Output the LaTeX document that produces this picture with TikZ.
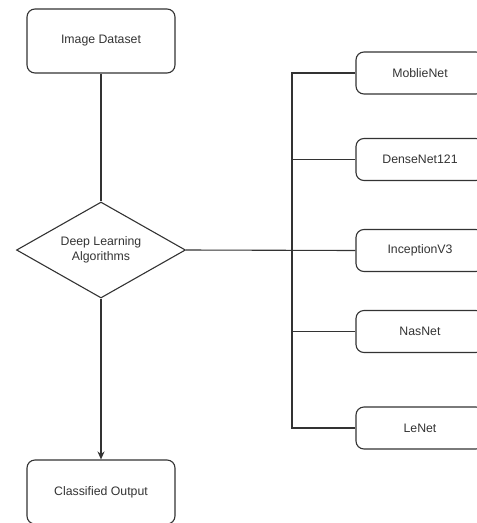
\documentclass[tikz,border=0pt]{standalone}
\usepackage{fontspec}
\setmainfont{Liberation Sans}
\usetikzlibrary{shapes.geometric,arrows.meta}
\definecolor{ln}{HTML}{333333}
\tikzset{
  box/.style={draw=ln, line width=1.1pt, rounded corners=8pt, minimum width=148pt, minimum height=64pt, inner sep=0pt, font=\fontsize{12.3}{14.5}\selectfont, text=ln},
  algbox/.style={draw=ln, line width=1.1pt, rounded corners=8pt, minimum width=128pt, minimum height=42pt, inner sep=0pt, font=\fontsize{12.3}{14.5}\selectfont, text=ln},
  dec/.style={draw=ln, line width=1.1pt, diamond, minimum width=169pt, minimum height=96pt, inner sep=0pt, aspect=1.76, font=\fontsize{12.3}{14.5}\selectfont, text=ln, align=center},
  conn/.style={draw=ln, line width=1.1pt}
}
\begin{document}
\begin{tikzpicture}[x=1pt,y=-1pt]
\useasboundingbox (0,0) rectangle (477,523);
\clip (0,0) rectangle (477,523);
\node[box] (img) at (101,41) {Image Dataset};
\node[dec] (dl) at (101,250) {Deep Learning\\Algorithms};
\node[box] (out) at (101,492) {Classified Output};
\node[algbox] (m1) at (420,73) {MoblieNet};
\node[algbox] (m2) at (420,159.5) {DenseNet121};
\node[algbox] (m3) at (420,250.5) {InceptionV3};
\node[algbox] (m4) at (420,331.5) {NasNet};
\node[algbox] (m5) at (420,428) {LeNet};
\coordinate (bt) at (292,73);
\coordinate (bb) at (292,428);
\draw[conn] (img.south) -- (dl.north);
\draw[conn, -{Stealth[length=8pt,width=7pt]}] (dl.south) -- (out.north);
\draw[conn] (dl.east) -- (m3.west);
\draw[conn] (m1.west) -- (bt) -- (bb) -- (m5.west);
\draw[conn] (m2.west) -- (m2.west -| bt);
\draw[conn] (m4.west) -- (m4.west -| bt);
\end{tikzpicture}
\end{document}
